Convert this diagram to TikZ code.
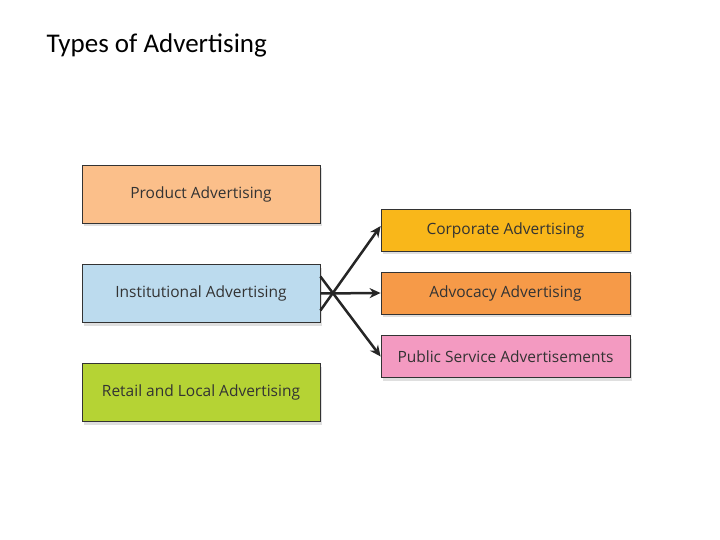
\documentclass[tikz,border=0pt]{standalone}
\usepackage{fontspec}
\setmainfont{Carlito}
\newfontfamily\boxfont{Open Sans}
\usetikzlibrary{arrows.meta,shadows}
\definecolor{cprod}{HTML}{FBBF8A}
\definecolor{cinst}{HTML}{BCDBEE}
\definecolor{cret}{HTML}{B5D334}
\definecolor{ccorp}{HTML}{F9B71A}
\definecolor{cadv}{HTML}{F69A48}
\definecolor{cpsa}{HTML}{F39AC1}
\tikzset{
  box/.style={draw=black!80, line width=0.8pt, minimum height=58pt, minimum width=238pt, inner sep=0pt,
    font=\boxfont\fontsize{15.5}{18}\selectfont, text=black!80, drop shadow={shadow xshift=2pt, shadow yshift=-3pt, opacity=0.25}},
  rbox/.style={box, minimum height=42pt, minimum width=249pt},
  arr/.style={line width=2.5pt, black!85, -{Stealth[length=11pt,width=10pt]}}
}
\begin{document}
\begin{tikzpicture}[x=1pt,y=-1pt]
\useasboundingbox (0,0) rectangle (720,540);
\node[anchor=west, font=\fontsize{27}{32}\selectfont] (title) at (43,45) {Types of Advertising};
\node[box, fill=cprod] (prod) at (201,194) {Product Advertising};
\node[box, fill=cinst] (inst) at (201,293.5) {Institutional Advertising};
\node[box, fill=cret] (ret) at (201,392.5) {Retail and Local Advertising};
\node[rbox, fill=ccorp] (corp) at (505.5,230) {Corporate Advertising};
\node[rbox, fill=cadv] (adv) at (505.5,293) {Advocacy Advertising};
\node[rbox, fill=cpsa] (psa) at (505.5,356.5) {Public Service Advertisements};
\draw[arr] ([yshift=-17pt]inst.east) -- ([yshift=4pt]corp.west);
\draw[arr] (inst.east) -- (adv.west);
\draw[arr] ([yshift=17pt]inst.east) -- (psa.west);
\end{tikzpicture}
\end{document}
